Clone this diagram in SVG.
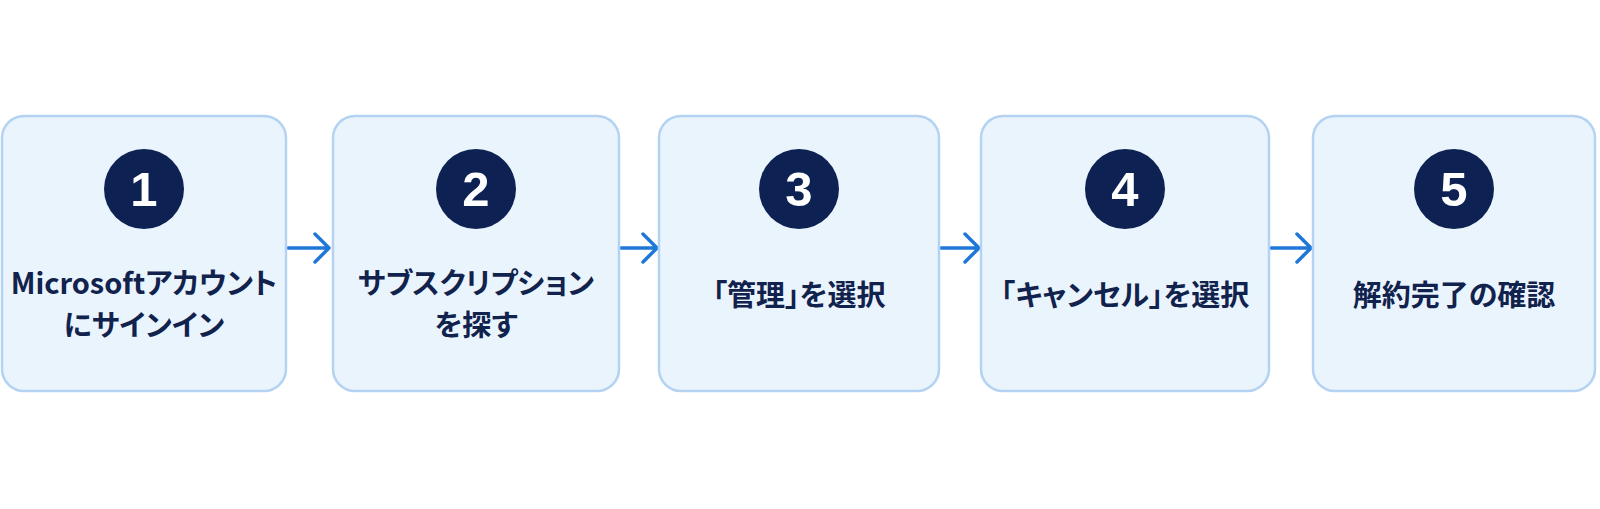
<svg xmlns="http://www.w3.org/2000/svg" width="1600" height="509" viewBox="0 0 1600 509">
  <style>
    .box { fill: #eaf4fd; stroke: #b4d2f1; stroke-width: 2.5; }
    .badge { fill: #0d2252; }
    .num { fill: #ffffff; font-family: "Liberation Sans", Arial, sans-serif; font-weight: bold; font-size: 49px; text-anchor: middle; }
    .label { fill: #11224d; font-family: "Noto Sans CJK JP", "Noto Sans", sans-serif; font-weight: bold; font-size: 29px; text-anchor: middle; font-feature-settings: "palt"; }
    .conn { fill: none; stroke: #1f78d8; stroke-width: 3.5; stroke-linecap: round; stroke-linejoin: round; }
  </style>
  <rect width="1600" height="509" fill="#ffffff"/>
  <g id="connectors">
    <path class="conn" d="M288 248 H328 M315 234 L329 248 L315 262"/>
    <path class="conn" d="M621 248 H656 M643 234 L657 248 L643 262"/>
    <path class="conn" d="M941 248 H978 M965 234 L979 248 L965 262"/>
    <path class="conn" d="M1271 248 H1310 M1297 234 L1311 248 L1297 262"/>
  </g>
  <g id="step1">
    <rect class="box" x="2" y="116" width="284" height="275" rx="22"/>
    <circle class="badge" cx="144" cy="189" r="40"/>
    <text class="num" x="144" y="206">1</text>
    <text class="label" x="144" y="294">Microsoftアカウント</text>
    <text class="label" x="144" y="336">にサインイン</text>
  </g>
  <g id="step2">
    <rect class="box" x="333" y="116" width="286" height="275" rx="22"/>
    <circle class="badge" cx="476" cy="189" r="40"/>
    <text class="num" x="476" y="206">2</text>
    <text class="label" x="476" y="294">サブスクリプション</text>
    <text class="label" x="476" y="336">を探す</text>
  </g>
  <g id="step3">
    <rect class="box" x="659" y="116" width="280" height="275" rx="22"/>
    <circle class="badge" cx="799" cy="189" r="40"/>
    <text class="num" x="799" y="206">3</text>
    <text class="label" x="799" y="306">「管理」を選択</text>
  </g>
  <g id="step4">
    <rect class="box" x="981" y="116" width="288" height="275" rx="22"/>
    <circle class="badge" cx="1125" cy="189" r="40"/>
    <text class="num" x="1125" y="206">4</text>
    <text class="label" x="1125" y="306">「キャンセル」を選択</text>
  </g>
  <g id="step5">
    <rect class="box" x="1313" y="116" width="282" height="275" rx="22"/>
    <circle class="badge" cx="1454" cy="189" r="40"/>
    <text class="num" x="1454" y="206">5</text>
    <text class="label" x="1454" y="306">解約完了の確認</text>
  </g>
</svg>
